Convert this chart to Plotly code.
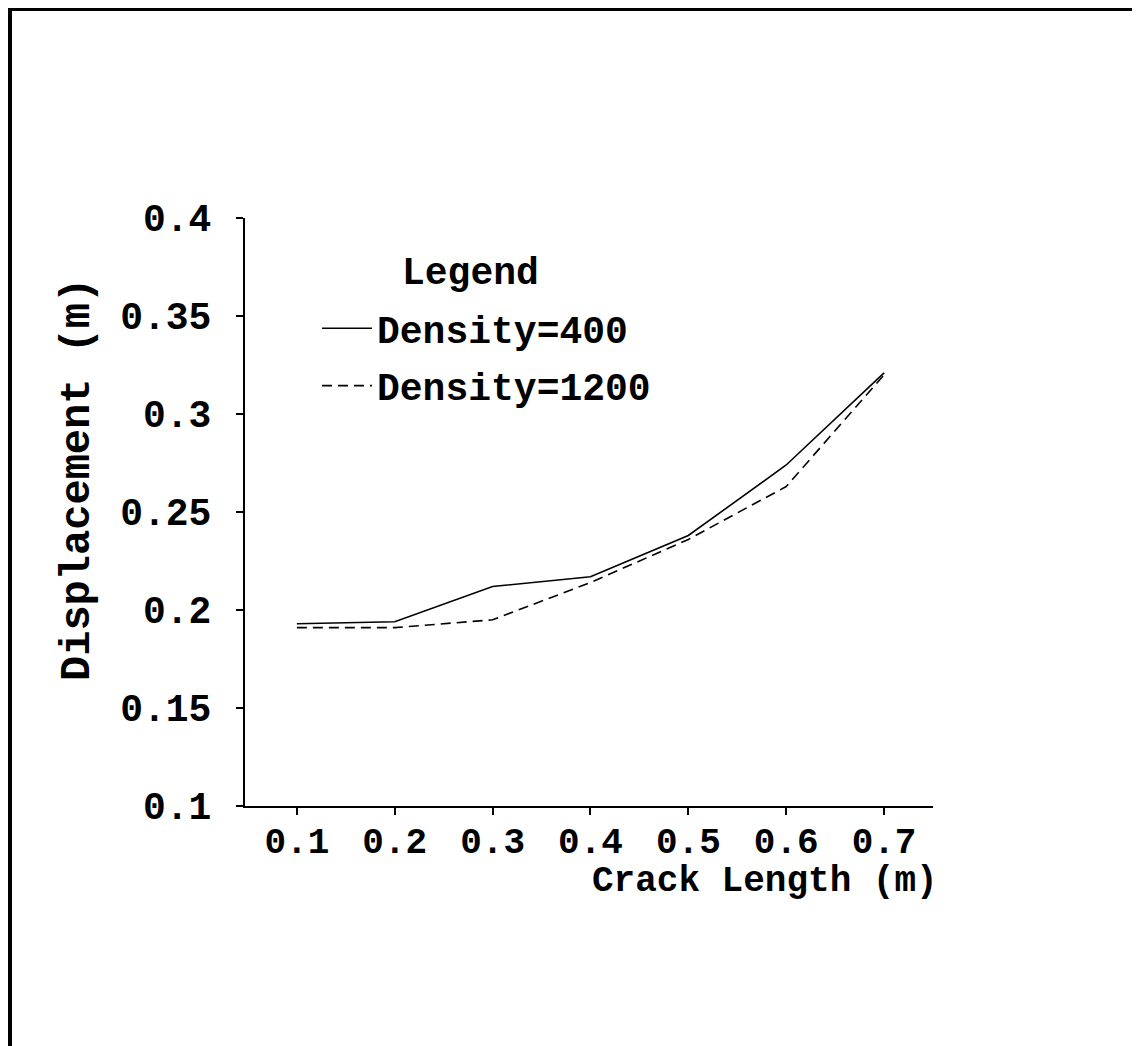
import plotly.graph_objects as go

crack_length = [0.1, 0.2, 0.3, 0.4, 0.5, 0.6, 0.7]
disp_400 = [0.193, 0.194, 0.212, 0.217, 0.238, 0.274, 0.321]
disp_1200 = [0.191, 0.191, 0.195, 0.214, 0.236, 0.263, 0.320]
series_names = ["Density=400", "Density=1200"]
legend_title = "Legend"
x_ticks = [0.1, 0.2, 0.3, 0.4, 0.5, 0.6, 0.7]
y_ticks = [0.1, 0.15, 0.2, 0.25, 0.3, 0.35, 0.4]
y_tick_text = ["0.1", "0.15", "0.2", "0.25", "0.3", "0.35", "0.4"]

FONT = "Courier New, Liberation Mono, monospace"
FS = 38

OFF = 8  # page body margin
W, H = 1140, 1046
# plot area in page pixel coordinates
L, R, T, B = 245, 933, 218, 806
pw, ph = R - L, B - T

def px(x):
    return (x - L) / pw

def py(y):
    return (B - y) / ph

fig = go.Figure()
fig.add_trace(go.Scatter(x=crack_length, y=disp_400, mode="lines", name=series_names[0],
                         legendgroup="a", line=dict(color="black", width=1.6)))
fig.add_trace(go.Scatter(x=crack_length, y=disp_1200, mode="lines", name=series_names[1],
                         legendgroup="b", line=dict(color="black", width=1.6, dash="10px,6px")))

tfont = dict(family=FONT, size=FS, color="black", weight="bold")
xfont = dict(family=FONT, size=36, color="black", weight="bold")
axis_common = dict(showline=True, linecolor="black", linewidth=2, ticks="outside",
                   ticklen=7, tickwidth=2, tickcolor="black", showgrid=False, zeroline=False)

fig.update_xaxes(range=[0.047, 0.75], tickvals=x_ticks, ticktext=[str(v) for v in x_ticks],
                 ticklabelstandoff=-5, tickfont=xfont, **axis_common)
fig.update_yaxes(range=[0.1, 0.4], tickvals=y_ticks, ticktext=y_tick_text,
                 ticklabelstandoff=17, tickfont=tfont, **axis_common)

fig.add_annotation(text="Crack Length (m)", xref="paper", yref="paper",
                   x=px(940), y=py(881), xanchor="right", yanchor="middle", showarrow=False,
                   font=xfont)
fig.add_annotation(text="Displacement (m)", xref="paper", yref="paper",
                   x=px(78), y=py(480), xanchor="center", yanchor="middle", showarrow=False,
                   textangle=-90, font=dict(family=FONT, size=42, color="black", weight="bold"))
fig.add_annotation(text=legend_title, xref="paper", yref="paper",
                   x=px(470), y=py(273), xanchor="center", yanchor="middle", showarrow=False,
                   font=tfont)

# page frame
fig.add_shape(type="line", xref="paper", yref="paper", x0=px(8), x1=px(1160), y0=py(9.5), y1=py(9.5),
              line=dict(color="black", width=3))
fig.add_shape(type="line", xref="paper", yref="paper", x0=px(10), x1=px(10), y0=py(8), y1=py(1080),
              line=dict(color="black", width=4))
# x-axis line extension to the left
fig.add_shape(type="line", xref="paper", yref="paper", x0=px(238), x1=px(245), y0=0, y1=0,
              line=dict(color="black", width=2))

fig.update_layout(
    width=W, height=H,
    margin=dict(l=L - OFF, r=W - (R - OFF), t=T - OFF, b=H - (B - OFF)),
    paper_bgcolor="white", plot_bgcolor="white",
    showlegend=True,
    legend=dict(x=px(317), y=py(357), xanchor="left", yanchor="middle",
                bgcolor="rgba(0,0,0,0)", borderwidth=0,
                font=tfont, itemwidth=50, tracegroupgap=5),
)

fig.write_html("out.html")
